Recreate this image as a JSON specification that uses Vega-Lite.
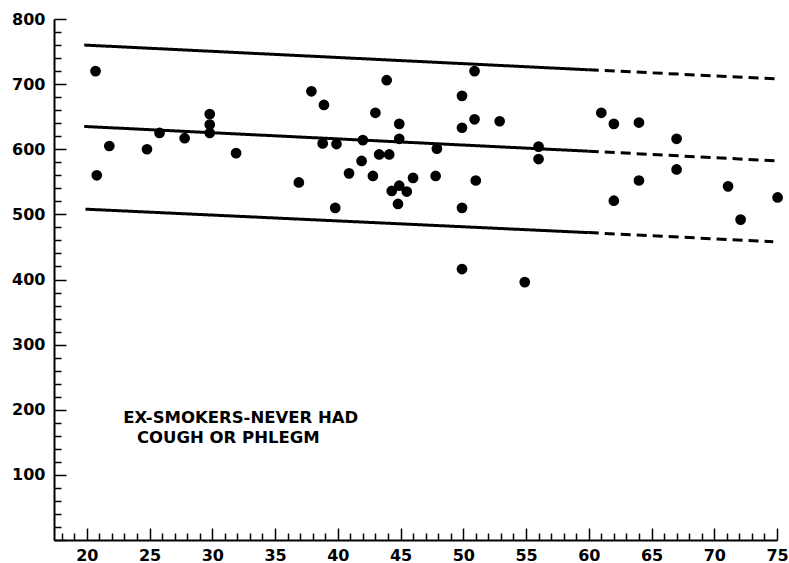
{
  "$schema": "https://vega.github.io/schema/vega-lite/v6.json",
  "width": 723,
  "height": 521,
  "autosize": "none",
  "padding": {"left": 54, "top": 19, "right": 12, "bottom": 23},
  "background": "white",
  "config": {"view": {"stroke": null}, "font": "DejaVu Sans"},
  "datasets": {
    "points": [
      {"age": 20.7, "value": 720}, {"age": 20.8, "value": 560}, {"age": 21.8, "value": 605},
      {"age": 24.8, "value": 600}, {"age": 25.8, "value": 625}, {"age": 27.8, "value": 617},
      {"age": 29.8, "value": 654}, {"age": 29.8, "value": 638}, {"age": 29.8, "value": 625},
      {"age": 31.9, "value": 594}, {"age": 36.9, "value": 549}, {"age": 37.9, "value": 689},
      {"age": 38.9, "value": 668}, {"age": 38.8, "value": 609}, {"age": 39.9, "value": 608},
      {"age": 39.8, "value": 510}, {"age": 40.9, "value": 563}, {"age": 42.0, "value": 614},
      {"age": 41.9, "value": 582}, {"age": 43.0, "value": 656}, {"age": 43.9, "value": 706},
      {"age": 44.9, "value": 639}, {"age": 44.9, "value": 616}, {"age": 43.3, "value": 592},
      {"age": 44.1, "value": 592}, {"age": 42.8, "value": 559}, {"age": 44.3, "value": 536},
      {"age": 44.9, "value": 544}, {"age": 45.5, "value": 535}, {"age": 44.8, "value": 516},
      {"age": 46.0, "value": 556}, {"age": 47.9, "value": 601}, {"age": 47.8, "value": 559},
      {"age": 50.9, "value": 720}, {"age": 49.9, "value": 682}, {"age": 50.9, "value": 646},
      {"age": 49.9, "value": 633}, {"age": 52.9, "value": 643}, {"age": 51.0, "value": 552},
      {"age": 49.9, "value": 510}, {"age": 49.9, "value": 416}, {"age": 54.9, "value": 396},
      {"age": 56.0, "value": 604}, {"age": 56.0, "value": 585}, {"age": 61.0, "value": 656},
      {"age": 62.0, "value": 639}, {"age": 64.0, "value": 641}, {"age": 67.0, "value": 616},
      {"age": 67.0, "value": 569}, {"age": 64.0, "value": 552}, {"age": 62.0, "value": 521},
      {"age": 71.1, "value": 543}, {"age": 72.1, "value": 492}, {"age": 75.05, "value": 526}
    ],
    "lines": [
      {"band": "upper", "part": "solid", "age": 19.8, "value": 760},
      {"band": "upper", "part": "solid", "age": 60, "value": 722},
      {"band": "upper", "part": "dashed", "age": 60, "value": 722},
      {"band": "upper", "part": "dashed", "age": 75.1, "value": 708},
      {"band": "middle", "part": "solid", "age": 19.8, "value": 635},
      {"band": "middle", "part": "solid", "age": 60, "value": 597},
      {"band": "middle", "part": "dashed", "age": 60, "value": 597},
      {"band": "middle", "part": "dashed", "age": 75.1, "value": 582},
      {"band": "lower", "part": "solid", "age": 19.9, "value": 508},
      {"band": "lower", "part": "solid", "age": 60, "value": 472},
      {"band": "lower", "part": "dashed", "age": 60, "value": 472},
      {"band": "lower", "part": "dashed", "age": 74.7, "value": 458}
    ],
    "labels": [
      {"text": "EX-SMOKERS-NEVER HAD", "age": 22.9, "value": 187},
      {"text": "COUGH OR PHLEGM", "age": 24.0, "value": 157}
    ]
  },
  "encoding": {
    "x": {
      "field": "age", "type": "quantitative",
      "scale": {"domain": [17.39, 75], "nice": false, "zero": false},
      "axis": {
        "title": null, "grid": false,
        "values": [18,19,20,21,22,23,24,25,26,27,28,29,30,31,32,33,34,35,36,37,38,39,40,41,42,43,44,45,46,47,48,49,50,51,52,53,54,55,56,57,58,59,60,61,62,63,64,65,66,67,68,69,70,71,72,73,74,75],
        "labelExpr": "datum.value % 5 === 0 ? datum.label : ''",
        "domainColor": "black", "domainWidth": 2,
        "tickColor": "black", "tickWidth": 1.5,
        "tickSize": {"condition": {"test": "datum.value % 5 === 0", "value": -12}, "value": -7},
        "labelFont": "DejaVu Sans", "labelFontWeight": "bold", "labelFontSize": 16, "labelColor": "black",
        "labelPadding": 19, "labelFlush": false, "labelOverlap": false, "labelBound": false
      }
    },
    "y": {
      "field": "value", "type": "quantitative",
      "scale": {"domain": [0, 800], "nice": false},
      "axis": {
        "title": null, "grid": false,
        "values": [0,20,40,60,80,100,120,140,160,180,200,220,240,260,280,300,320,340,360,380,400,420,440,460,480,500,520,540,560,580,600,620,640,660,680,700,720,740,760,780,800],
        "labelExpr": "datum.value % 100 === 0 && datum.value > 0 ? datum.label : ''",
        "domainColor": "black", "domainWidth": 2,
        "tickColor": "black", "tickWidth": 1.5,
        "tickSize": {"condition": {"test": "datum.value % 100 === 0", "value": -12}, "value": -7},
        "labelFont": "DejaVu Sans", "labelFontWeight": "bold", "labelFontSize": 16, "labelColor": "black",
        "labelPadding": 21, "labelFlush": false, "labelOverlap": false, "labelBound": false
      }
    }
  },
  "layer": [
    {
      "data": {"name": "lines"},
      "mark": {"type": "line", "color": "black", "strokeWidth": 3, "strokeCap": "butt"},
      "encoding": {
        "detail": {"field": "band"},
        "strokeDash": {"field": "part", "type": "nominal", "scale": {"domain": ["solid", "dashed"], "range": [[1, 0], [10, 6]]}, "legend": null}
      }
    },
    {
      "data": {"name": "points"},
      "mark": {"type": "point", "shape": "circle", "filled": true, "color": "black", "opacity": 1, "size": 115}
    },
    {
      "data": {"name": "labels"},
      "mark": {"type": "text", "align": "left", "baseline": "middle", "font": "DejaVu Sans", "fontWeight": "bold", "fontSize": 16.5, "color": "black"},
      "encoding": {"text": {"field": "text"}}
    }
  ]
}
